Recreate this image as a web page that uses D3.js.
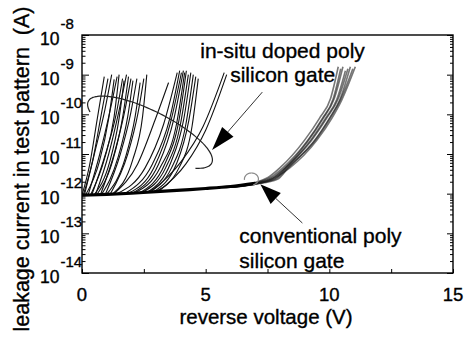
<!DOCTYPE html>
<html>
<head>
<meta charset="utf-8">
<script src="https://cdn.jsdelivr.net/npm/d3@7"></script>
<style>
  body { margin: 0; background: #fff; }
  svg { display: block; font-family: "Liberation Sans", Arial, Helvetica, sans-serif; }
  text { fill: #000; stroke: #000; stroke-width: 0.35px; }
</style>
</head>
<body>
<svg id="chart" width="465" height="338"></svg>
<script>
// Axis ticks
const xTicks = [0, 2.5, 5, 7.5, 10, 12.5, 15];
const xLabels = [0, 5, 10, 15];
const yDecades = [-14, -13, -12, -11, -10, -9, -8];

// Curves as [reverse voltage (V), log10 leakage current (A)]
const baseline = [[0, -12.04], [1, -12.02], [2, -11.99], [3, -11.95], [4, -11.91], [5, -11.87], [6, -11.82], [7, -11.74]];

const insituCurves = [
  [[0.00, -12.04], [0.30, -11.3], [0.62, -10.1], [0.90, -9.05]],
  [[0.05, -12.04], [0.42, -11.2], [0.78, -10.0], [1.05, -9.10]],
  [[0.10, -12.03], [0.50, -11.0], [0.92, -9.9], [1.20, -9.00]],
  [[0.15, -12.03], [0.70, -11.2], [1.08, -10.1], [1.30, -9.12]],
  [[0.25, -12.03], [0.72, -11.0], [1.12, -9.95], [1.42, -9.05]],
  [[0.35, -12.03], [0.92, -11.1], [1.30, -10.05], [1.50, -9.00]],
  [[0.40, -12.02], [0.95, -11.0], [1.38, -10.0], [1.64, -9.10]],
  [[0.50, -12.02], [1.12, -11.2], [1.50, -10.1], [1.70, -9.15]],
  [[0.55, -12.02], [1.08, -11.0], [1.50, -9.9], [1.80, -9.00]],
  [[0.60, -12.02], [1.25, -11.15], [1.65, -10.05], [1.88, -9.05]],
  [[0.75, -12.02], [1.30, -11.0], [1.70, -10.0], [1.98, -9.10]],
  [[0.80, -12.01], [1.45, -11.1], [1.85, -10.05], [2.06, -9.15]],
  [[0.95, -12.01], [1.55, -11.0], [1.96, -10.0], [2.22, -9.10]],
  [[1.00, -12.01], [1.75, -11.1], [2.15, -10.05], [2.35, -9.20]],
  [[1.15, -12.00], [1.85, -11.0], [2.27, -9.95], [2.50, -9.10]],
  [[1.25, -12.00], [2.05, -11.15], [2.45, -10.05], [2.62, -9.00]],
  [[1.30, -12.00], [2.25, -11.25], [2.95, -10.15], [3.50, -9.20]],
  [[1.45, -11.99], [2.55, -11.35], [3.30, -10.25], [3.85, -8.95]],
  [[1.75, -11.99], [2.85, -11.25], [3.55, -10.10], [3.95, -8.90]],
  [[1.90, -11.98], [2.90, -11.35], [3.58, -10.20], [4.02, -8.95]],
  [[2.05, -11.98], [3.10, -11.25], [3.72, -10.10], [4.10, -8.90]],
  [[2.15, -11.97], [3.15, -11.35], [3.82, -10.25], [4.15, -8.95]],
  [[2.35, -11.97], [3.35, -11.25], [3.92, -10.15], [4.22, -8.90]],
  [[2.45, -11.96], [3.38, -11.35], [3.98, -10.25], [4.30, -9.00]],
  [[2.65, -11.96], [3.60, -11.20], [4.12, -10.10], [4.40, -8.95]],
  [[2.70, -11.95], [3.62, -11.35], [4.20, -10.25], [4.50, -9.00]],
  [[2.90, -11.95], [3.85, -11.20], [4.32, -10.15], [4.60, -9.05]],
  [[3.00, -11.94], [3.92, -11.35], [4.45, -10.30], [4.70, -9.10]],
  [[2.80, -11.95], [4.00, -11.20], [4.90, -10.30], [5.75, -8.95]],
  [[3.10, -11.94], [4.20, -11.25], [5.00, -10.40], [5.85, -9.00]]
];

const conventionalCurves = [
  [[6.0, -11.82], [7.0, -11.72], [7.5, -11.60], [8.0, -11.35], [9.0, -10.65], [9.6, -10.10], [10.05, -9.60], [10.36, -8.80]],
  [[6.0, -11.82], [7.0, -11.73], [7.6, -11.60], [8.1, -11.36], [9.1, -10.68], [9.7, -10.12], [10.15, -9.62], [10.46, -8.85]],
  [[6.0, -11.83], [7.0, -11.74], [7.7, -11.60], [8.15, -11.38], [9.15, -10.66], [9.75, -10.10], [10.2, -9.60], [10.55, -8.80]],
  [[6.0, -11.83], [7.0, -11.74], [7.7, -11.62], [8.2, -11.37], [9.25, -10.65], [9.85, -10.10], [10.3, -9.63], [10.65, -8.90]],
  [[6.0, -11.83], [7.0, -11.75], [7.8, -11.62], [8.25, -11.35], [9.3, -10.64], [9.9, -10.09], [10.35, -9.62], [10.75, -8.85]],
  [[6.0, -11.84], [7.0, -11.75], [7.8, -11.64], [8.3, -11.36], [9.4, -10.66], [10.0, -10.10], [10.42, -9.64], [10.85, -8.80]],
  [[6.0, -11.84], [7.0, -11.76], [7.9, -11.64], [8.35, -11.34], [9.45, -10.64], [10.05, -10.08], [10.46, -9.62], [10.95, -8.85]],
  [[6.0, -11.84], [7.0, -11.76], [7.5, -11.68], [8.4, -11.35], [9.5, -10.65], [10.1, -10.10], [10.5, -9.64], [11.05, -8.80]]
];

// Annotations, positions in data units
const insituLabel = [{text: 'in-situ doped poly', at: [4.78, -8.58]}, {text: 'silicon gate', at: [5.99, -9.19]}];
const conventionalLabel = [{text: 'conventional poly', at: [6.36, -13.24]}, {text: 'silicon gate', at: [6.36, -13.87]}];
const insituArrow = {from: [7.29, -9.44], to: [5.26, -10.9], head: 24};
const conventionalArrow = {from: [8.91, -12.74], to: [7.21, -11.76], head: 21};
const insituRing = {center: [2.75, -10.45], rx: 69, ry: 21, angle: 26.6, t0: 2.71, t1: 6.89};
const conventionalRing = {center: [6.85, -11.63], rx: 7, ry: 6, angle: 0, t0: 3.0, t1: 7.6};

const svg = d3.select('#chart');
const x = d3.scaleLinear().domain([0, 15]).range([82, 453]);
const y = d3.scaleLog().domain([1e-14, 1e-8]).range([273, 35]);
const px = d => [x(d[0]), y(10 ** d[1])];

svg.append('clipPath').attr('id', 'plot')
  .append('rect').attr('x', 82).attr('y', 35).attr('width', 371).attr('height', 238);

const line = d3.line()
  .x(d => x(d[0]))
  .y(d => y(10 ** d[1]))
  .curve(d3.curveMonotoneX);

const plot = svg.append('g').attr('clip-path', 'url(#plot)');

plot.selectAll('path.conv')
  .data(conventionalCurves)
  .enter().append('path')
  .attr('class', 'conv')
  .attr('d', line)
  .attr('fill', 'none')
  .attr('stroke', '#1a1a1a')
  .attr('stroke-opacity', 0.6)
  .attr('stroke-width', 1.6);

plot.selectAll('path.insitu')
  .data(insituCurves)
  .enter().append('path')
  .attr('class', 'insitu')
  .attr('d', line)
  .attr('fill', 'none')
  .attr('stroke', '#111')
  .attr('stroke-width', 1.1);

plot.append('path')
  .datum(baseline)
  .attr('d', line)
  .attr('fill', 'none')
  .attr('stroke', '#000')
  .attr('stroke-width', 3.2);

// frame and ticks
const minor = y.ticks().filter(v => Math.abs(Math.log10(v) - Math.round(Math.log10(v))) > 1e-6);
const major = yDecades.map(d => 10 ** d);

svg.append('g').attr('transform', 'translate(82,0)')
  .call(d3.axisLeft(y).tickValues(minor).tickSize(-3.5).tickFormat(''));
svg.append('g').attr('transform', 'translate(82,0)')
  .call(d3.axisLeft(y).tickValues(major).tickSize(-7).tickFormat(''));
svg.append('g').attr('transform', 'translate(453,0)')
  .call(d3.axisRight(y).tickValues(minor).tickSize(-3).tickFormat(''));
svg.append('g').attr('transform', 'translate(453,0)')
  .call(d3.axisRight(y).tickValues(major).tickSize(-6).tickFormat(''));
svg.append('g').attr('transform', 'translate(0,273)')
  .call(d3.axisBottom(x).tickValues(xTicks).tickSize(-4).tickFormat(''));
svg.selectAll('.domain').remove();
svg.selectAll('.tick line').attr('stroke', '#000').attr('stroke-width', 1);

svg.append('rect')
  .attr('x', 82).attr('y', 35).attr('width', 371).attr('height', 238)
  .attr('fill', 'none').attr('stroke', '#000').attr('stroke-width', 1.4);

// tick labels
const yLab = svg.append('g').selectAll('text')
  .data(yDecades).enter().append('text')
  .attr('x', 40)
  .attr('y', d => y(10 ** d) + 10);
yLab.append('tspan').attr('font-size', 17.5).text('10');
yLab.append('tspan').attr('font-size', 15).attr('dx', 1).attr('dy', -16).text(d => String(d));

svg.append('g').selectAll('text')
  .data(xLabels).enter().append('text')
  .attr('x', d => x(d))
  .attr('y', 301)
  .attr('text-anchor', 'middle')
  .attr('font-size', 18.5)
  .text(d => d);

// axis titles
svg.append('text')
  .attr('x', 266).attr('y', 324)
  .attr('text-anchor', 'middle')
  .attr('font-size', 20.5)
  .text('reverse voltage (V)');

svg.append('text')
  .attr('transform', 'translate(29,169) rotate(-90)')
  .attr('text-anchor', 'middle')
  .attr('font-size', 21.5)
  .attr('xml:space', 'preserve')
  .text('leakage current in test pattern  (A)');

// annotations
svg.append('g').selectAll('text')
  .data(insituLabel.concat(conventionalLabel)).enter().append('text')
  .attr('x', d => px(d.at)[0])
  .attr('y', d => px(d.at)[1])
  .attr('font-size', 21)
  .text(d => d.text);

function drawRing(r, color) {
  const c = px(r.center);
  const a = r.angle * Math.PI / 180;
  const pts = d3.range(r.t0, r.t1, 0.05).concat([r.t1]).map(t => {
    const u = r.rx * Math.cos(t), v = r.ry * Math.sin(t);
    return [c[0] + u * Math.cos(a) - v * Math.sin(a), c[1] + u * Math.sin(a) + v * Math.cos(a)];
  });
  svg.append('path')
    .attr('d', d3.line().curve(d3.curveCatmullRom)(pts))
    .attr('fill', 'none')
    .attr('stroke', color)
    .attr('stroke-width', 1.2);
}
drawRing(insituRing, '#222');
drawRing(conventionalRing, '#888');

function drawArrow(ar) {
  const p0 = px(ar.from), p1 = px(ar.to);
  const dx = p1[0] - p0[0], dy = p1[1] - p0[1];
  const len = Math.hypot(dx, dy);
  const ux = dx / len, uy = dy / len;
  const bx = p1[0] - ux * ar.head, by = p1[1] - uy * ar.head;
  const hw = 7.5;
  svg.append('line')
    .attr('x1', p0[0]).attr('y1', p0[1]).attr('x2', bx).attr('y2', by)
    .attr('stroke', '#333').attr('stroke-width', 1);
  svg.append('path')
    .attr('d', d3.line()([p1, [bx - uy * hw, by + ux * hw], [bx + uy * hw, by - ux * hw]]) + 'Z')
    .attr('fill', '#000');
}
drawArrow(insituArrow);
drawArrow(conventionalArrow);
</script>
</body>
</html>
